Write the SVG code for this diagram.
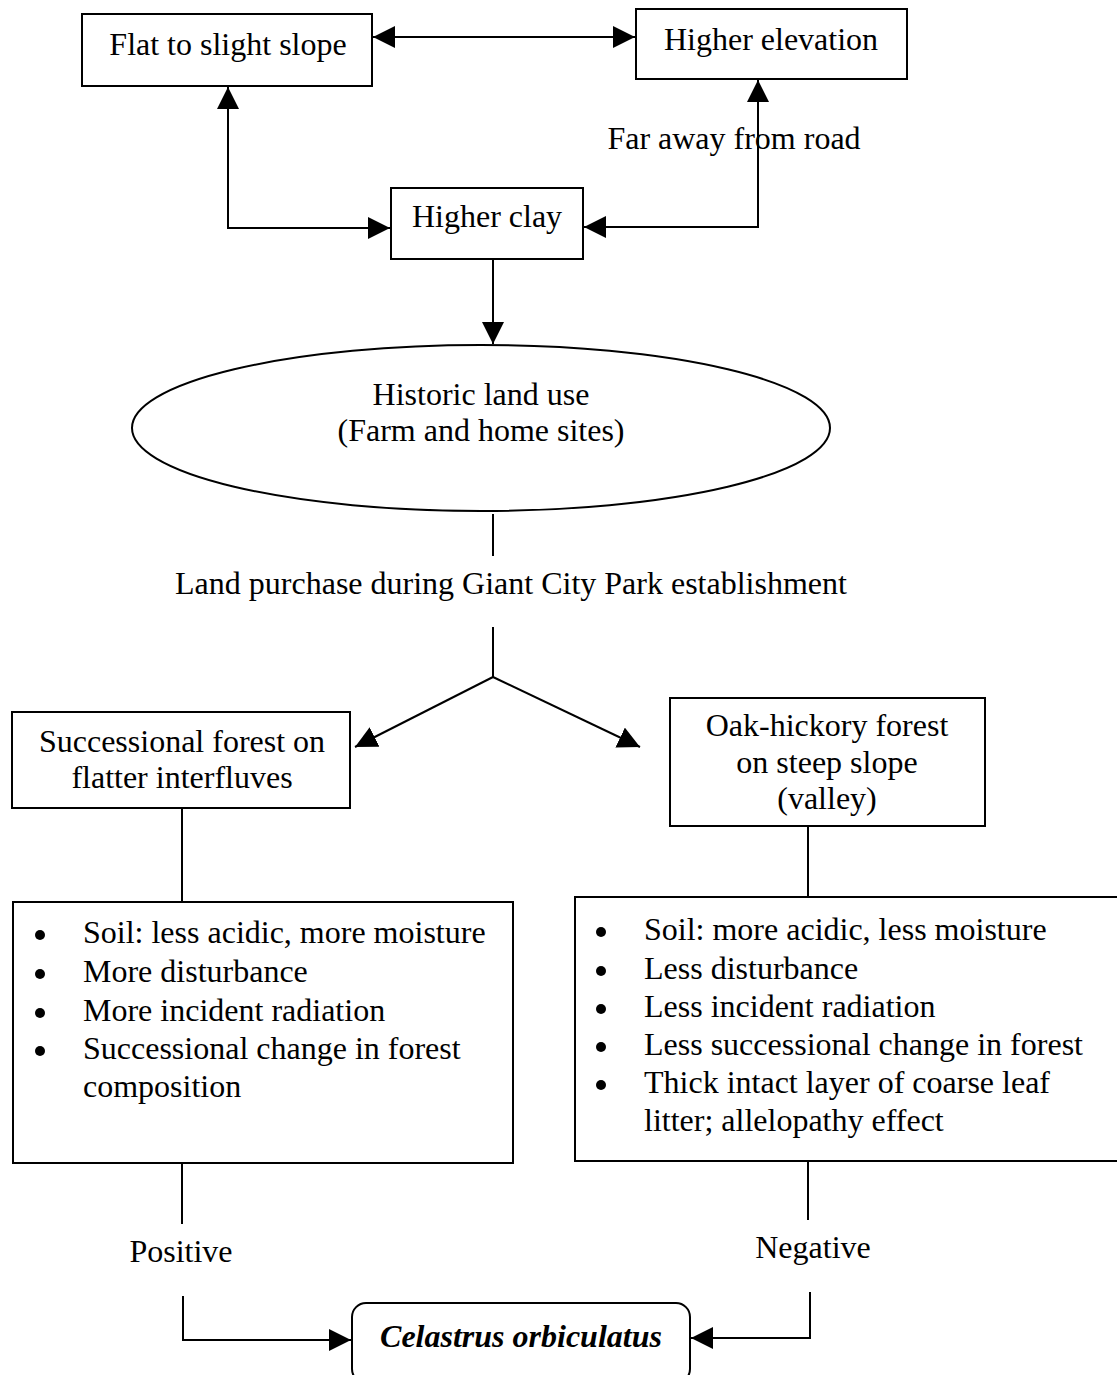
<svg xmlns="http://www.w3.org/2000/svg" width="1117" height="1375" viewBox="0 0 1117 1375">
<style>
text{font-family:"Liberation Serif","Times New Roman",serif;font-size:32px;fill:#000}
.c{text-anchor:middle}
.box{fill:#fff;stroke:#000;stroke-width:2}
.ln{fill:none;stroke:#000;stroke-width:2}
</style>
<defs>
<marker id="ah" viewBox="0 0 10 10" refX="10" refY="5" markerWidth="22" markerHeight="22" markerUnits="userSpaceOnUse" orient="auto-start-reverse">
<path d="M0,0 L10,5 L0,10 z" fill="#000"/>
</marker>
</defs>
<rect width="1117" height="1375" fill="#fff"/>
<g id="connectors">
<line class="ln" x1="373" y1="37" x2="635" y2="37" marker-start="url(#ah)" marker-end="url(#ah)"/>
<polyline class="ln" points="228,87 228,228 390,228" marker-start="url(#ah)" marker-end="url(#ah)"/>
<polyline class="ln" points="758,80 758,227 584,227" marker-start="url(#ah)" marker-end="url(#ah)"/>
<line class="ln" x1="493" y1="260" x2="493" y2="344" marker-end="url(#ah)"/>
<line class="ln" x1="493" y1="514" x2="493" y2="556"/>
<line class="ln" x1="493" y1="627" x2="493" y2="677"/>
<line class="ln" x1="493" y1="677" x2="355" y2="747" marker-end="url(#ah)"/>
<line class="ln" x1="493" y1="677" x2="640" y2="747" marker-end="url(#ah)"/>
<line class="ln" x1="182" y1="808" x2="182" y2="902"/>
<line class="ln" x1="808" y1="826" x2="808" y2="897"/>
<line class="ln" x1="182" y1="1163" x2="182" y2="1224"/>
<line class="ln" x1="808" y1="1161" x2="808" y2="1220"/>
<polyline class="ln" points="183,1296 183,1340 351,1340" marker-end="url(#ah)"/>
<polyline class="ln" points="810,1292 810,1338 691,1338" marker-end="url(#ah)"/>
<text x="734" y="149" class="c">Far away from road</text>
<text x="511" y="594" class="c">Land purchase during Giant City Park establishment</text>
<text x="181" y="1262" class="c">Positive</text>
<text x="813" y="1258" class="c">Negative</text>
</g>
<g id="flat">
<rect class="box" x="82" y="14" width="290" height="72"/>
<text x="228" y="55" class="c">Flat to slight slope</text>
</g>
<g id="elevation">
<rect class="box" x="636" y="9" width="271" height="70"/>
<text x="771" y="50" class="c">Higher elevation</text>
</g>
<g id="clay">
<rect class="box" x="391" y="188" width="192" height="71"/>
<text x="487" y="227" class="c">Higher clay</text>
</g>
<g id="historic">
<ellipse class="box" cx="481" cy="428" rx="349" ry="83"/>
<text x="481" y="405" class="c">Historic land use</text>
<text x="481" y="441" class="c">(Farm and home sites)</text>
</g>
<g id="successional">
<rect class="box" x="12" y="712" width="338" height="96"/>
<text x="182" y="752" class="c">Successional forest on</text>
<text x="182" y="788" class="c">flatter interfluves</text>
</g>
<g id="oak">
<rect class="box" x="670" y="698" width="315" height="128"/>
<text x="827" y="736" class="c">Oak-hickory forest</text>
<text x="827" y="773" class="c">on steep slope</text>
<text x="827" y="809" class="c">(valley)</text>
</g>
<g id="left-list">
<rect class="box" x="13" y="902" width="500" height="261"/>
<g fill="#000"><circle cx="40" cy="935" r="5"/><circle cx="40" cy="974" r="5"/><circle cx="40" cy="1013" r="5"/><circle cx="40" cy="1051" r="5"/></g>
<text x="83" y="943">Soil: less acidic, more moisture</text>
<text x="83" y="982">More disturbance</text>
<text x="83" y="1021">More incident radiation</text>
<text x="83" y="1059">Successional change in forest</text>
<text x="83" y="1097">composition</text>
</g>
<g id="right-list">
<rect class="box" x="575" y="897" width="550" height="264"/>
<g fill="#000"><circle cx="601" cy="932" r="5"/><circle cx="601" cy="971" r="5"/><circle cx="601" cy="1009" r="5"/><circle cx="601" cy="1047" r="5"/><circle cx="601" cy="1085" r="5"/></g>
<text x="644" y="940">Soil: more acidic, less moisture</text>
<text x="644" y="979">Less disturbance</text>
<text x="644" y="1017">Less incident radiation</text>
<text x="644" y="1055">Less successional change in forest</text>
<text x="644" y="1093">Thick intact layer of coarse leaf</text>
<text x="644" y="1131">litter; allelopathy effect</text>
</g>
<g id="celastrus">
<rect class="box" x="352" y="1303" width="338" height="80" rx="14"/>
<text x="521" y="1347" class="c" font-weight="bold" font-style="italic">Celastrus orbiculatus</text>
</g>
</svg>
